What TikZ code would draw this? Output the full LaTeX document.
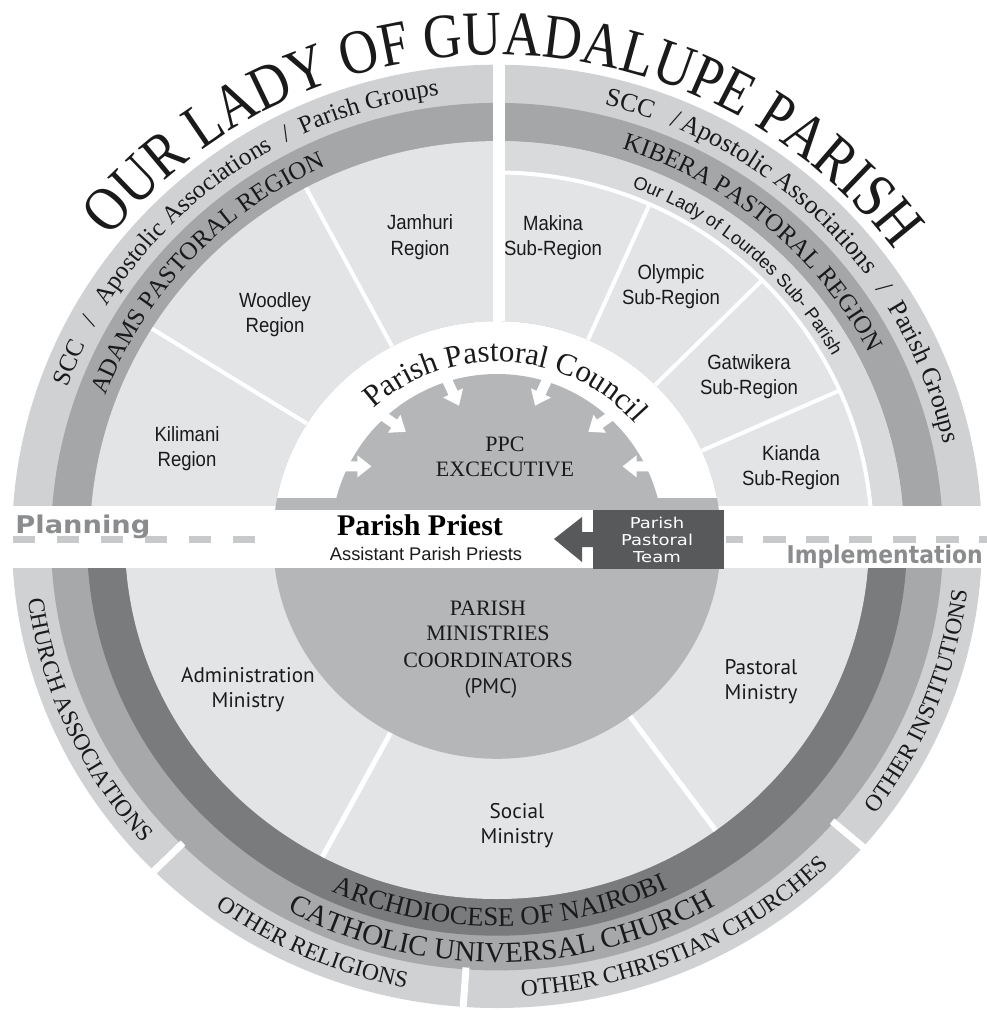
\documentclass[tikz,border=0pt]{standalone}
\usepackage{fontspec}
\usepackage{graphicx}
\setmainfont{Liberation Serif}
\newfontfamily\titlef[FakeStretch=0.85]{Liberation Serif}
\newfontfamily\arialf{Liberation Sans}
\newfontfamily\regf[FakeStretch=0.9]{Liberation Sans}
\newfontfamily\myrf{PT Sans}
\newfontfamily\teamf[FakeStretch=1.2]{DejaVu Sans}
\newfontfamily\heavyf{DejaVu Sans}
\usetikzlibrary{calc,decorations.text}

\definecolor{ringL}{HTML}{D0D1D3}
\definecolor{ringD}{HTML}{A5A6A8}
\definecolor{regL}{HTML}{E3E4E6}
\definecolor{lourd}{HTML}{D9DADC}
\definecolor{hubG}{HTML}{B5B6B8}
\definecolor{ringM}{HTML}{A7A8AA}
\definecolor{ringDD}{HTML}{7A7B7D}
\definecolor{teamG}{HTML}{58595B}
\definecolor{planG}{HTML}{8B8C8E}
\definecolor{dashG}{HTML}{C8C9CB}
\definecolor{inkT}{HTML}{1A1A1A}

\newcommand\fTitle{\titlef\fontsize{31.5pt}{31.5pt}\selectfont}
\newcommand\fRing{\fontsize{12.5pt}{12.5pt}\selectfont}
\newcommand\fRingR{\fontsize{13pt}{13pt}\selectfont}
\newcommand\fLourdes{\arialf\fontsize{9.15pt}{9.15pt}\selectfont}
\newcommand\fCouncil{\fontsize{15.5pt}{15.5pt}\selectfont}
\newcommand\fLowOut{\fontsize{11.75pt}{11.75pt}\selectfont}
\newcommand\fCath{\fontsize{14.5pt}{14.5pt}\selectfont}
\newcommand\fArch{\fontsize{13.4pt}{13.4pt}\selectfont}

% clockwise arc text (tops outward): center angle, rx, k, font, text
\newcommand\cwtext[5]{%
  \pgfmathsetmacro\myRY{#2*#3}\pgfmathsetmacro\mySA{#1+90}\pgfmathsetmacro\myEA{#1-90}%
  \path[decorate,decoration={text along path,text align=center,text color=inkT,text={|#4|#5}}]
    ($(C)+(\mySA:#2 and \myRY)$) arc[start angle=\mySA,end angle=\myEA,x radius=#2,y radius=\myRY];}
% counter-clockwise arc text (tops inward)
\newcommand\ccwtext[5]{%
  \pgfmathsetmacro\myRY{#2*#3}\pgfmathsetmacro\mySA{#1-90}\pgfmathsetmacro\myEA{#1+90}%
  \path[decorate,decoration={text along path,text align=center,text color=inkT,text={|#4|#5}}]
    ($(C)+(\mySA:#2 and \myRY)$) arc[start angle=\mySA,end angle=\myEA,x radius=#2,y radius=\myRY];}
% block arrow of the council ring: name, position angle, direction
\newcommand\pparrow[3]{%
  \coordinate (#1) at ($(C)+(#2:172 and 168)$);
  \fill[white] ($(#1)+({#3+90}:5)$) -- ($(#1)+(#3:15)+({#3+90}:5)$) -- ($(#1)+(#3:15)+({#3+90}:11)$)
    -- ($(#1)+(#3:29)$) -- ($(#1)+(#3:15)+({#3-90}:11)$) -- ($(#1)+(#3:15)+({#3-90}:5)$)
    -- ($(#1)+({#3-90}:5)$) -- cycle;}

\tikzset{
  regionlbl/.style={font=\regf\fontsize{10.3pt}{12.75pt}\selectfont, align=center, inner sep=0pt, text=inkT},
  ministrylbl/.style={font=\myrf\fontsize{10.6pt}{12.5pt}\selectfont, align=center, inner sep=0pt, text=inkT},
  sepline/.style={white, line width=2pt},
  capsserif/.style={font=\fontsize{11pt}{13pt}\selectfont, inner sep=0pt, text=inkT},
  bandword/.style={inner sep=0pt, text=planG, font=\heavyf\bfseries\fontsize{12.2pt}{12.2pt}\selectfont},
  teamword/.style={anchor=base, inner sep=0pt, text=white, font=\teamf\fontsize{7.5pt}{8.5pt}\selectfont},
}

\begin{document}
\begin{tikzpicture}[x=0.5pt,y=0.5pt]
\useasboundingbox (0,0) rectangle (986,-1010);
\coordinate (C) at (497,-540);

% ---------- upper half ----------
\begin{scope}
  \clip (0,0) rectangle (986,-505);
  \fill[ringL] (C) ellipse [x radius=485, y radius=475.3];
  \fill[ringD] (C) ellipse [x radius=446, y radius=437.1];
  \fill[regL]  (C) ellipse [x radius=407, y radius=398.9];
  \fill[lourd] (C) -- ($(C)+(0:407 and 398.9)$) arc[start angle=0,end angle=90,x radius=407,y radius=398.9] -- cycle;
  \fill[regL]  (C) -- ($(C)+(0:375 and 367.5)$) arc[start angle=0,end angle=90,x radius=375,y radius=367.5] -- cycle;
  \draw[sepline] ($(C)+(0:375 and 367.5)$) arc[start angle=0,end angle=90,x radius=375,y radius=367.5];
  % region separators
  \draw[sepline] ($(C)+(118:220 and 215.6)$) -- ($(C)+(118:407 and 398.9)$);
  \draw[sepline] ($(C)+(148:220 and 215.6)$) -- ($(C)+(148:407 and 398.9)$);
  \draw[sepline] ($(C)+(66:220 and 215.6)$) -- ($(C)+(66:375 and 367.5)$);
  \draw[sepline] ($(C)+(45:220 and 215.6)$) -- ($(C)+(45:375 and 367.5)$);
  \draw[sepline] ($(C)+(24:220 and 215.6)$) -- ($(C)+(24:375 and 367.5)$);
  \fill[white] (493,0) rectangle (505,-340);
\end{scope}

% ---------- lower half ----------
\begin{scope}
  \clip (0,-568) rectangle (986,-1010);
  \fill[ringL]  (C) ellipse [x radius=485, y radius=468.0];
  \fill[ringM]  (C) ellipse [x radius=446, y radius=430.4];
  \fill[ringDD] (C) ellipse [x radius=410, y radius=395.7];
  \fill[regL]   (C) ellipse [x radius=372, y radius=359.0];
  \draw[white, line width=2.5pt] ($(C)+(242:215 and 207)$) -- ($(C)+(242:372 and 359)$);
  \draw[white, line width=2.5pt] ($(C)+(306:215 and 207)$) -- ($(C)+(306:372 and 359)$);
  \draw[white, line width=3.5pt] ($(C)+(225:444 and 428.5)$) -- ($(C)+(225:492 and 474.8)$);
  \draw[white, line width=3.5pt] ($(C)+(266:444 and 428.5)$) -- ($(C)+(266:492 and 474.8)$);
  \draw[white, line width=3.5pt] ($(C)+(319:444 and 428.5)$) -- ($(C)+(319:492 and 474.8)$);
\end{scope}

% ---------- hub ----------
\fill[hubG] (C) ellipse [x radius=224, y radius=218.8];
\begin{scope}
  \clip (0,0) rectangle (986,-497);
  \fill[white] (C) ellipse [x radius=224, y radius=218.8];
  \fill[hubG] (C) ellipse [x radius=166, y radius=166];
  \pparrow{a1}{154}{0}
  \pparrow{a2}{132}{-35}
  \pparrow{a3}{107}{-65}
  \pparrow{a4}{73}{-115}
  \pparrow{a5}{48}{-145}
  \pparrow{a6}{26}{180}
\end{scope}

% ---------- band ----------
\fill[white] (0,-510) rectangle (986,-568);
\foreach \xx in {13,57,101,145,189,233} \fill[dashG] (\xx,-536) rectangle ++(22,-7);
\fill[dashG] (726,-536) rectangle (743,-543);
\foreach \xx in {763,806,849,893,936,979} \fill[dashG] (\xx,-536) rectangle ++(23,-7);
\node[bandword, anchor=base west] (plan) at (15,-533) {\resizebox{67.5pt}{\height}{Planning}};
\node[bandword, anchor=base east] (impl) at (983,-563) {\resizebox{98pt}{\height}{Implementation}};

\node[anchor=base, inner sep=0pt, text=black, font=\bfseries\fontsize{15pt}{15pt}\selectfont] (pp) at (420,-535) {Parish Priest};
\node[anchor=base, inner sep=0pt, text=inkT, font=\arialf\fontsize{9.15pt}{9.15pt}\selectfont] (app) at (426,-560) {Assistant Parish Priests};

\fill[teamG] (593,-510) rectangle (724,-569);
\fill[teamG] (554,-539) -- (582,-517) -- (582,-532) -- (594,-532) -- (594,-547) -- (582,-547) -- (582,-562) -- cycle;
\node[teamword] (team1) at (657,-528) {Parish};
\node[teamword] (team2) at (657,-545) {Pastoral};
\node[teamword] (team3) at (657,-562) {Team};

% ---------- hub texts ----------
\node[capsserif, anchor=base] (ppc1) at (505,-451) {PPC};
\node[capsserif, anchor=base] (ppc2) at (505,-476) {EXCECUTIVE};
\node[capsserif, anchor=base] (pmc1) at (488,-615) {PARISH};
\node[capsserif, anchor=base] (pmc2) at (488,-640) {MINISTRIES};
\node[capsserif, anchor=base] (pmc3) at (488,-667) {COORDINATORS};
\node[anchor=base, inner sep=0pt, text=inkT, font=\myrf\fontsize{10.6pt}{10.6pt}\selectfont] (pmc4) at (491,-693) {(PMC)};

% ---------- region labels ----------
\node[regionlbl] (jam) at (420,-237) {Jamhuri\\Region};
\node[regionlbl] (woo) at (275,-314.5) {Woodley\\Region};
\node[regionlbl] (kil) at (187,-448.5) {Kilimani\\Region};
\node[regionlbl] (mak) at (553,-237.5) {Makina\\Sub-Region};
\node[regionlbl] (oly) at (671,-286.5) {Olympic\\Sub-Region};
\node[regionlbl] (gat) at (749,-376.5) {Gatwikera\\Sub-Region};
\node[regionlbl] (kia) at (791,-467.5) {Kianda\\Sub-Region};
\node[ministrylbl] (adm) at (248,-689.5) {Administration\\Ministry};
\node[ministrylbl] (pas) at (761,-681.5) {Pastoral\\Ministry};
\node[ministrylbl] (soc) at (517,-825.5) {Social\\Ministry};

% ---------- arc texts ----------
\cwtext{89}{495}{0.98}{\fTitle}{OUR LADY OF GUADALUPE PARISH}
\cwtext{157.5}{457}{0.98}{\fRing}{SCC}
\cwtext{151.7}{457}{0.98}{\fRing}{/}
\cwtext{134.5}{457}{0.98}{\fRing}{Apostolic Associations}
\cwtext{117.4}{457}{0.98}{\fRing}{/}
\cwtext{106.5}{457}{0.98}{\fRing}{Parish Groups}
\cwtext{73}{457}{0.98}{\fRingR}{SCC}
\cwtext{67}{457}{0.98}{\fRingR}{/}
\cwtext{50.8}{457}{0.98}{\fRingR}{Apostolic Associations}
\cwtext{33}{457}{0.98}{\fRingR}{/}
\cwtext{21.4}{457}{0.98}{\fRingR}{Parish Groups}
\cwtext{137.3}{418}{0.98}{\fRing}{ADAMS PASTORAL REGION}
\cwtext{49.4}{418}{0.98}{\fRing}{KIBERA PASTORAL REGION}
\cwtext{48.8}{384}{0.98}{\fLourdes}{Our Lady of Lourdes Sub- Parish}
\cwtext{86.7}{182}{0.98}{\fCouncil}{Parish Pastoral Council}

\ccwtext{203.8}{473}{0.965}{\fLowOut}{CHURCH ASSOCIATIONS}
\ccwtext{245.5}{473}{0.965}{\fLowOut}{OTHER RELIGIONS}
\ccwtext{294.4}{473}{0.965}{\fLowOut}{OTHER CHRISTIAN CHURCHES}
\ccwtext{339}{473}{0.965}{\fLowOut}{OTHER INSTITUTIONS}
\ccwtext{270.7}{437.6}{0.965}{\fCath}{CATHOLIC UNIVERSAL CHURCH}
\ccwtext{270.5}{400}{0.965}{\fArch}{ARCHDIOCESE OF NAIROBI}
\end{tikzpicture}
\end{document}
